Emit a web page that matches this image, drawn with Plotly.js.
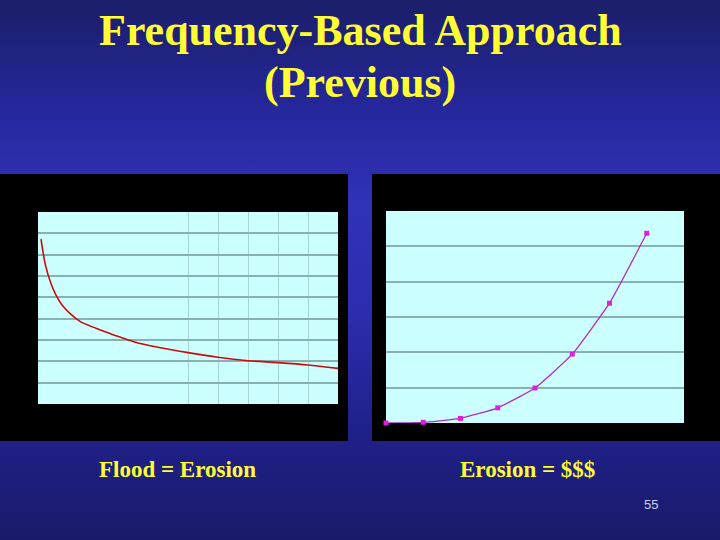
<!DOCTYPE html>
<html>
<head>
<meta charset="utf-8">
<script src="https://cdn.plot.ly/plotly-3.0.1.min.js"></script>
<style>
html, body { margin: 0; padding: 0; }
body {
  width: 720px; height: 540px; overflow: hidden;
  background: linear-gradient(to bottom, #1b1e68 0%, #2628a0 22%, #3032b8 38%, #2c2cae 58%, #20208a 80%, #1a1a6a 100%);
}
#chart { width: 720px; height: 540px; }
</style>
</head>
<body>
<div id="chart"></div>
<script>
// Left chart: flood frequency curve
const floodX = [0.1, 0.25, 0.43, 0.6, 0.8, 1.1, 1.41, 1.75, 2.08, 2.6, 3.19, 4.0, 5.0, 6.0, 7.0, 8.0, 9.0, 10.0];
const floodY = [7.73, 6.5, 5.66, 5.1, 4.64, 4.2, 3.86, 3.65, 3.47, 3.2, 2.92, 2.66, 2.41, 2.19, 2.03, 1.94, 1.83, 1.67];
const floodGridX = [5, 6, 7, 8, 9];

// Right chart: erosion cost curve
const erosionX = [0, 1, 2, 3, 4, 5, 6, 7];
const erosionY = [0, 0.02, 0.13, 0.43, 0.99, 1.95, 3.39, 5.37];

const titleLines = ["Frequency-Based Approach", "(Previous)"];
const captionLeft = "Flood = Erosion";
const captionRight = "Erosion = $$$";
const pageNumber = "55";

const W = 720, H = 540;
const px = x => x / W;
const py = y => 1 - y / H;

const traces = [
  {
    x: floodX, y: floodY, xaxis: 'x', yaxis: 'y',
    mode: 'lines', line: {color: '#cc0a0a', width: 1.6, shape: 'spline', smoothing: 0.8},
    hoverinfo: 'skip'
  },
  {
    x: erosionX, y: erosionY, xaxis: 'x2', yaxis: 'y2', cliponaxis: false,
    mode: 'lines+markers', line: {color: '#b02cc8', width: 1.3, shape: 'spline', smoothing: 0.4},
    marker: {symbol: 'square', size: 5, color: '#e01ee0'},
    hoverinfo: 'skip'
  }
];

const gridCol = '#88b2b2';
const plotBg = '#ccffff';
const layout = {
  width: W, height: H,
  margin: {l: 0, r: 0, t: 0, b: 0},
  paper_bgcolor: 'rgba(0,0,0,0)',
  plot_bgcolor: plotBg,
  showlegend: false,
  xaxis: {
    domain: [px(38), px(338)], range: [0, 10], anchor: 'y',
    tickvals: floodGridX, showticklabels: false, ticks: '',
    showgrid: true, gridcolor: '#a8d6d6', gridwidth: 1, zeroline: false, showline: false
  },
  yaxis: {
    domain: [py(404), py(212)], range: [0, 9], anchor: 'x',
    dtick: 1, showticklabels: false, ticks: '',
    showgrid: true, gridcolor: gridCol, gridwidth: 2, zeroline: false, showline: false
  },
  xaxis2: {
    domain: [px(386), px(684)], range: [0, 8], anchor: 'y2',
    showticklabels: false, ticks: '', showgrid: false, zeroline: false, showline: false
  },
  yaxis2: {
    domain: [py(423), py(211)], range: [0, 6], anchor: 'x2',
    dtick: 1, showticklabels: false, ticks: '',
    showgrid: true, gridcolor: gridCol, gridwidth: 2, zeroline: false, showline: false
  },
  shapes: [
    {type: 'rect', xref: 'paper', yref: 'paper', x0: px(0), x1: px(348), y0: py(441), y1: py(174),
     fillcolor: '#000000', line: {width: 0}, layer: 'below'},
    {type: 'rect', xref: 'paper', yref: 'paper', x0: px(372), x1: px(720), y0: py(441), y1: py(174),
     fillcolor: '#000000', line: {width: 0}, layer: 'below'},
    {type: 'rect', xref: 'x domain', yref: 'y domain', x0: 0, x1: 1, y0: 0, y1: 1,
     fillcolor: plotBg, line: {width: 0}, layer: 'below'},
    {type: 'rect', xref: 'x2 domain', yref: 'y2 domain', x0: 0, x1: 1, y0: 0, y1: 1,
     fillcolor: plotBg, line: {width: 0}, layer: 'below'}
  ],
  annotations: [
    {text: '<b>' + titleLines[0] + '</b>', xref: 'paper', yref: 'paper', x: 0.5, y: py(30),
     xanchor: 'center', yanchor: 'middle', showarrow: false,
     font: {family: 'Liberation Serif, Times New Roman, serif', size: 44, color: '#ffff33'}},
    {text: '<b>' + titleLines[1] + '</b>', xref: 'paper', yref: 'paper', x: 0.5, y: py(82),
     xanchor: 'center', yanchor: 'middle', showarrow: false,
     font: {family: 'Liberation Serif, Times New Roman, serif', size: 44, color: '#ffff33'}},
    {text: '<b>' + captionLeft + '</b>', xref: 'paper', yref: 'paper', x: px(97), y: py(469),
     xanchor: 'left', yanchor: 'middle', showarrow: false,
     font: {family: 'Liberation Serif, Times New Roman, serif', size: 23, color: '#ffff33'}},
    {text: '<b>' + captionRight + '</b>', xref: 'paper', yref: 'paper', x: px(458), y: py(469),
     xanchor: 'left', yanchor: 'middle', showarrow: false,
     font: {family: 'Liberation Serif, Times New Roman, serif', size: 23, color: '#ffff33'}},
    {text: pageNumber, xref: 'paper', yref: 'paper', x: px(651), y: py(504),
     xanchor: 'center', yanchor: 'middle', showarrow: false,
     font: {family: 'Liberation Sans, Arial, sans-serif', size: 13, color: '#d0d0e8'}}
  ]
};

Plotly.newPlot('chart', traces, layout, {staticPlot: true, displayModeBar: false});
</script>
</body>
</html>
